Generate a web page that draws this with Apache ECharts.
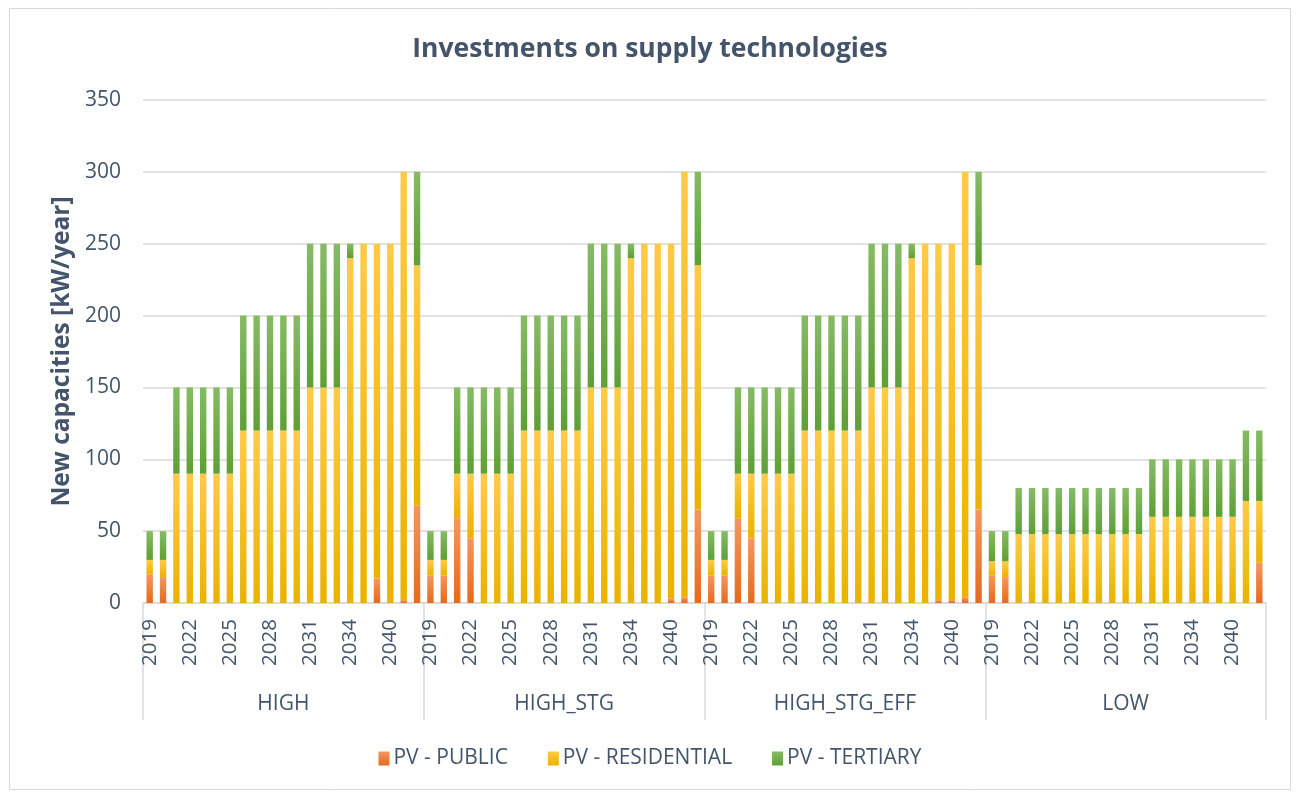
<!DOCTYPE html>
<html>
<head>
<meta charset="utf-8">
<script src="https://cdn.jsdelivr.net/npm/echarts@6/dist/echarts.min.js"></script>
<style>
html,body{margin:0;padding:0;background:#fff;}
#chart{width:1300px;height:792px;}
</style>
</head>
<body>
<div id="chart"></div>
<script>
const groups = ['HIGH', 'HIGH_STG', 'HIGH_STG_EFF', 'LOW'];
const years = ['2019','2020','2021','2022','2023','2024','2025','2026','2027','2028','2029','2030','2031','2032','2033','2034','2035','2036','2040','2045','2050'];

const publicHigh       = [20,18,0,0,0,0,0,0,0,0,0,0,0,0,0,0,0,17,0,2,68];
const residentialHigh  = [10,12,90,90,90,90,90,120,120,120,120,120,150,150,150,240,250,233,250,298,167];
const tertiaryHigh     = [20,20,60,60,60,60,60,80,80,80,80,80,100,100,100,10,0,0,0,0,65];

const publicStg        = [19,19,59,45,0,0,0,0,0,0,0,0,0,0,0,0,0,0,3,4,65];
const residentialStg   = [11,11,31,45,90,90,90,120,120,120,120,120,150,150,150,240,250,250,247,296,170];
const tertiaryStg      = [20,20,60,60,60,60,60,80,80,80,80,80,100,100,100,10,0,0,0,0,65];

const publicEff        = [19,19,59,45,0,0,0,0,0,0,0,0,0,0,0,0,0,2,2,4,65];
const residentialEff   = [11,11,31,45,90,90,90,120,120,120,120,120,150,150,150,240,250,248,248,296,170];
const tertiaryEff      = [20,20,60,60,60,60,60,80,80,80,80,80,100,100,100,10,0,0,0,0,65];

const publicLow        = [19,18,0,0,0,0,0,0,0,0,0,0,0,0,0,0,0,0,0,0,28];
const residentialLow   = [10,11,48,48,48,48,48,48,48,48,48,48,60,60,60,60,60,60,60,71,43];
const tertiaryLow      = [21,21,32,32,32,32,32,32,32,32,32,32,40,40,40,40,40,40,40,49,49];

const yTicks = [0,50,100,150,200,250,300,350];

const categories = [];
groups.forEach(g => years.forEach(y => categories.push(g + '|' + y)));
const pubAll = [].concat(publicHigh, publicStg, publicEff, publicLow);
const resAll = [].concat(residentialHigh, residentialStg, residentialEff, residentialLow);
const terAll = [].concat(tertiaryHigh, tertiaryStg, tertiaryEff, tertiaryLow);

const txt = '#44546A';
const grad = (a, b) => new echarts.graphic.LinearGradient(0, 0, 0, 1, [{offset:0,color:a},{offset:1,color:b}]);
const chart = echarts.init(document.getElementById('chart'));
const font = 'Open Sans';

chart.setOption({
  animation: false,
  backgroundColor: '#fff',
  textStyle: {fontFamily: font},
  graphic: [{
    type: 'rect', shape: {x: 9.5, y: 8.5, width: 1281, height: 781},
    style: {fill: 'none', stroke: '#d9d9d9', lineWidth: 1}
  }],
  title: {
    text: 'Investments on supply technologies',
    left: 'center', top: 31,
    textStyle: {fontFamily: font, fontSize: 26.5, fontWeight: 'bold', color: txt}
  },
  legend: {
    bottom: 18, left: 'center',
    icon: 'rect', itemWidth: 11, itemHeight: 14, itemGap: 40,
    textStyle: {fontFamily: font, fontSize: 21, color: txt, padding: [0,0,0,-1]},
    data: ['PV - PUBLIC', 'PV - RESIDENTIAL', 'PV - TERTIARY']
  },
  grid: {left: 143, right: 34, top: 100, bottom: 189},
  xAxis: [{
    type: 'category',
    data: categories,
    axisLine: {lineStyle: {color: '#d9d9d9', width: 1.5}},
    axisTick: {show: false},
    axisLabel: {
      interval: 2, rotate: 90, margin: 16,
      fontFamily: font, fontSize: 20.5, color: txt,
      formatter: v => v.split('|')[1]
    }
  }, {
    type: 'category',
    data: groups,
    position: 'bottom',
    axisLine: {show: false},
    axisTick: {show: true, length: 117, lineStyle: {color: '#d9d9d9', width: 1.5}},
    axisLabel: {margin: 91, fontFamily: font, fontSize: 21, color: txt}
  }],
  yAxis: {
    type: 'value', min: yTicks[0], max: yTicks[yTicks.length - 1], interval: 50,
    name: 'New capacities [kW/year]', nameLocation: 'middle', nameRotate: 90, nameGap: 68,
    nameTextStyle: {fontFamily: font, fontSize: 24.5, fontWeight: 'bold', color: txt},
    axisLine: {show: false}, axisTick: {show: false},
    axisLabel: {margin: 22, fontFamily: font, fontSize: 21, color: txt},
    splitLine: {lineStyle: {color: '#d9d9d9', width: 1.5}}
  },
  series: [{
    name: 'PV - PUBLIC', type: 'bar', stack: 'a', data: pubAll, barWidth: '48%',
    itemStyle: {color: grad('#F5965E', '#E56A1C')}
  }, {
    name: 'PV - RESIDENTIAL', type: 'bar', stack: 'a', data: resAll, barWidth: '48%',
    itemStyle: {color: grad('#FFCA47', '#E9B300')}
  }, {
    name: 'PV - TERTIARY', type: 'bar', stack: 'a', data: terAll, barWidth: '48%',
    itemStyle: {color: grad('#86BB64', '#5F9F36')}
  }]
});
</script>
</body>
</html>
